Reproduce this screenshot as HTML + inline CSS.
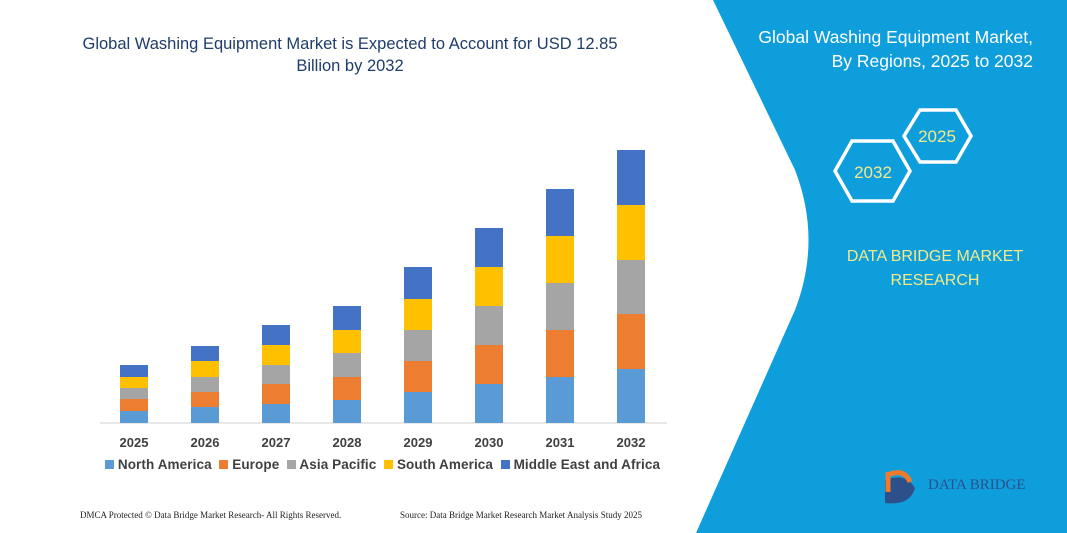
<!DOCTYPE html>
<html><head><style>
body{margin:0;width:1067px;height:533px;background:#fff;position:relative;overflow:hidden;font-family:"Liberation Sans",sans-serif}
.t{position:absolute;white-space:nowrap}
</style></head><body>
<svg width="1067" height="533" style="position:absolute;left:0;top:0">
<path d="M713,0 L1067,0 L1067,533 L696,533 L795,310 Q822,240 795,170 Z" fill="#0f9edc"/>
<g fill="none" stroke="#fff" stroke-width="3.5">
<polygon points="835,171 852,141 893,141 910,171 893,201 852,201"/>
<polygon points="904,136 920,110 956,110 971,136 956,162 920,162"/>
</g>
<text x="873" y="178" font-size="17" fill="#f3e98a" text-anchor="middle" font-family="Liberation Sans">2032</text>
<text x="937" y="142" font-size="17" fill="#f3e98a" text-anchor="middle" font-family="Liberation Sans">2025</text>
<line x1="100" y1="423" x2="667" y2="423" stroke="#d0d0d0"/>
<g id="bars"></g>
<path d="M885,480 q20,-8 30,8 q-5,18 -30,15 z" fill="#2d4f8a"/>
<path d="M888,472 v20 M890,474 q15,-5 20,8" stroke="#f07a2c" stroke-width="5" fill="none"/>
</svg>
<script>
var xs=[134,205,276,347,418,489,560,631];
var ys=[[423,411,399,388,377,365],[423,407,392,377,361,346],[423,404,384,365,345,325],[423,400,377,353,330,306],[423,392,361,330,299,267],[423,384,345,306,267,228],[423,377,330,283,236,189],[423,369,314,260,205,150]];
var c=["#5b9bd5","#ed7d31","#a5a5a5","#ffc000","#4472c4"];
var s="";
for(var i=0;i<8;i++){for(var j=0;j<5;j++){s+='<rect x="'+(xs[i]-14)+'" y="'+ys[i][j+1]+'" width="28" height="'+(ys[i][j]-ys[i][j+1])+'" fill="'+c[j]+'"/>';}
s+='<text x="'+xs[i]+'" y="447" font-size="13" font-weight="bold" fill="#404040" text-anchor="middle" font-family="Liberation Sans">'+(2025+i)+'</text>';}
document.getElementById("bars").outerHTML=s;
</script>
<div class="t" style="left:80px;top:33px;width:540px;text-align:center;font-size:16.5px;color:#1f3d6b;line-height:22px;white-space:normal">Global Washing Equipment Market is Expected to Account for USD 12.85 Billion by 2032</div>
<div class="t" style="left:733px;top:25px;width:300px;text-align:right;font-size:17.5px;color:#fff;line-height:24px">Global Washing Equipment Market,<br>By Regions, 2025 to 2032</div>
<div class="t" style="left:820px;top:245px;width:230px;text-align:center;font-size:16px;color:#f3e98a;line-height:24px">DATA BRIDGE MARKET<br>RESEARCH</div>
<div class="t" style="left:105px;top:457px;font-size:13.5px;font-weight:bold;color:#404040;letter-spacing:0.1px">
<span style="display:inline-block;width:9px;height:9px;background:#5b9bd5"></span> North America&nbsp;
<span style="display:inline-block;width:9px;height:9px;background:#ed7d31"></span> Europe&nbsp;
<span style="display:inline-block;width:9px;height:9px;background:#a5a5a5"></span> Asia Pacific&nbsp;
<span style="display:inline-block;width:9px;height:9px;background:#ffc000"></span> South America&nbsp;
<span style="display:inline-block;width:9px;height:9px;background:#4472c4"></span> Middle East and Africa</div>
<div class="t" style="left:80px;top:510px;font-size:9px;font-family:'Liberation Serif',serif;color:#222">DMCA Protected © Data Bridge Market Research- All Rights Reserved.</div>
<div class="t" style="left:400px;top:510px;font-size:9px;font-family:'Liberation Serif',serif;color:#222">Source: Data Bridge Market Research Market Analysis Study 2025</div>
<div class="t" style="left:928px;top:477px;font-size:15px;font-family:'Liberation Serif',serif;color:#2d4f8a">DATA BRIDGE</div>
</body></html>
